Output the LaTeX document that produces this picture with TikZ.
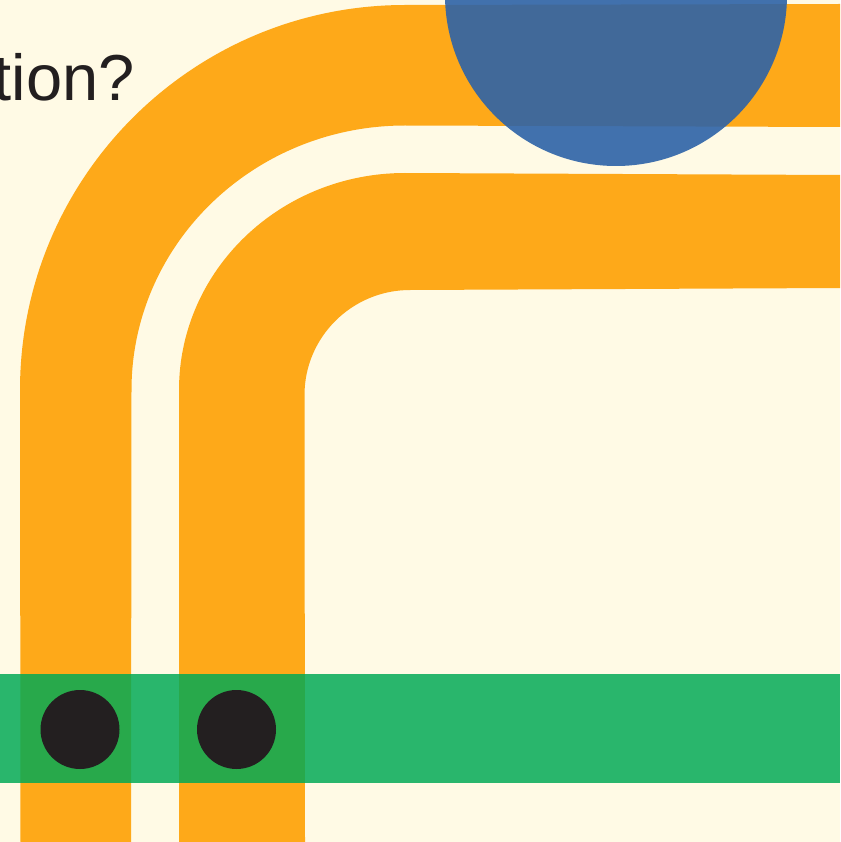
\documentclass[tikz,border=0pt]{standalone}
\usepackage{fontspec}
\setmainfont{Liberation Sans}
\usepackage{xcolor}
\definecolor{paper}{RGB}{255,250,229}
\definecolor{ambertrack}{RGB}{254,169,25}
\definecolor{bluedisc}{RGB}{45,99,168}
\definecolor{greenband}{RGB}{0,170,85}
\definecolor{inkdark}{RGB}{35,31,32}
\usetikzlibrary{positioning}

\begin{document}
\begin{tikzpicture}[
  x=1pt, y=-1pt,
  track/.style={fill=ambertrack},
  disc/.style={fill=bluedisc, fill opacity=0.9},
  band/.style={fill=greenband, fill opacity=0.84},
  dot/.style={fill=inkdark},
  question/.style={font=\fontsize{65pt}{65pt}\selectfont, text=inkdark, inner sep=0pt, anchor=base east}
]
  \useasboundingbox (0,0) rectangle (840,842);
  \clip (0,0) rectangle (840,842);
  \fill[paper] (0,0) rectangle (840,842);

  % outer and inner tracks
  \fill[track] (20.5,842) -- (20,390) .. controls (20,177.4) and (192.4,5) .. (405,5)
    -- (840,4) -- (840,127) -- (405,125.5)
    .. controls (254,125.5) and (131.5,244) .. (131.5,390) -- (131,842) -- cycle;
  \fill[track] (179,842) -- (179,390) .. controls (179,270.2) and (280.2,173) .. (405,173)
    -- (840,175) -- (840,288) -- (410,290)
    .. controls (352,290) and (304.5,337) .. (304.5,395) -- (305,842) -- cycle;

  \fill[disc] (616,-5) circle[radius=171];
  \fill[band] (0,674) rectangle (840,782.5);

  \fill[dot] (80,729.5) circle[radius=39.5];
  \fill[dot] (236.5,729.5) circle[radius=39.5];

  \node[question] (tail) at (135,101) {tion?};
\end{tikzpicture}
\end{document}
